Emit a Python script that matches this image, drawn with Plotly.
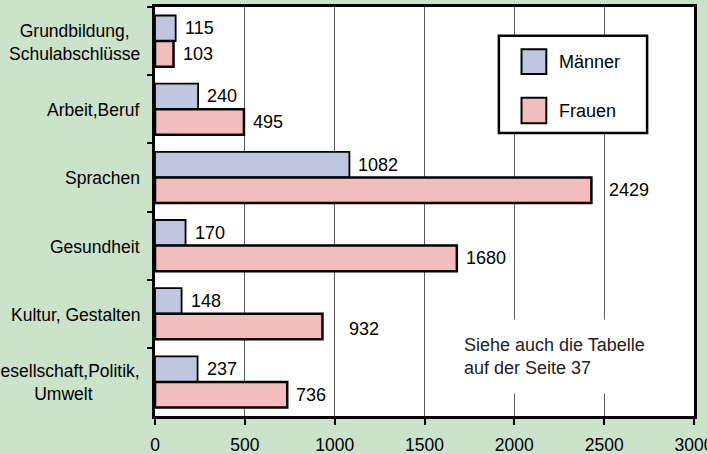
import plotly.graph_objects as go

# Kursbelegung nach Themenbereich
categories = ["Grundbildung,<br>Schulabschlüsse", "Arbeit,Beruf", "Sprachen",
              "Gesundheit", "Kultur, Gestalten", "Gesellschaft,Politik,<br>Umwelt"]
maenner = [115, 240, 1082, 170, 148, 237]
frauen = [103, 495, 2429, 1680, 932, 736]
x_ticks = [0, 500, 1000, 1500, 2000, 2500, 3000]

# kleine Verschiebungen der Beschriftungen (Pixel), wie im Original
nudge_m = [7, 7, 7, 7, 7, 7]
nudge_f = [7, 7, 16, 7, 25, 7]

col_m = "#bfc7e0"
col_f = "#f4bdbd"
bg = "#cbe2cb"
FONT = "Liberation Sans, Arial, sans-serif"

fig = go.Figure()
fig.add_trace(go.Bar(y=categories, x=maenner, orientation="h", name="Männer",
                     marker=dict(color=col_m, line=dict(color="black", width=1.8)),
                     showlegend=False))
fig.add_trace(go.Bar(y=categories, x=frauen, orientation="h", name="Frauen",
                     marker=dict(color=col_f, line=dict(color="black", width=2.5)),
                     showlegend=False))

ann = []
# Kategorienbeschriftung (zentrierte Zeilen, rechtsbündiger Block)
for c in categories:
    ann.append(dict(x=0, y=c, xref="paper", yref="y", text=c, showarrow=False,
                    xanchor="right", align="center", xshift=-13, yshift=-1,
                    font=dict(size=17.5)))
# Wertebeschriftungen
for c, v, s in zip(categories, maenner, nudge_m):
    ann.append(dict(x=v, y=c, xref="x", yref="y", text=str(v), showarrow=False,
                    xanchor="left", xshift=s, yshift=12.8, font=dict(size=18)))
for c, v, s in zip(categories, frauen, nudge_f):
    ys = -14.8 if s == 25 else -12.8
    ann.append(dict(x=v, y=c, xref="x", yref="y", text=str(v), showarrow=False,
                    xanchor="left", xshift=s, yshift=ys, font=dict(size=18)))

# Hinweis
ann.append(dict(x=0.543, y=0.237, xref="paper", yref="paper",
                text="Siehe auch die Tabelle<br>auf der Seite 37", showarrow=False,
                xanchor="left", yanchor="top", align="left", bgcolor="white",
                borderpad=15, font=dict(size=18, color="#222")))

# Legende von Hand
shapes = [
    dict(type="rect", xref="paper", yref="paper", x0=0.638, x1=0.913, y0=0.692, y1=0.93,
         fillcolor="white", line=dict(color="black", width=2.5)),
    dict(type="rect", xref="paper", yref="paper", x0=0.680, x1=0.726, y0=0.836, y1=0.897,
         fillcolor=col_m, line=dict(color="black", width=2)),
    dict(type="rect", xref="paper", yref="paper", x0=0.680, x1=0.726, y0=0.716, y1=0.778,
         fillcolor=col_f, line=dict(color="black", width=2)),
]
ann.append(dict(x=0.745, y=0.866, xref="paper", yref="paper", text="Männer",
                showarrow=False, xanchor="left", yanchor="middle", font=dict(size=18)))
ann.append(dict(x=0.745, y=0.746, xref="paper", yref="paper", text="Frauen",
                showarrow=False, xanchor="left", yanchor="middle", font=dict(size=18)))

fig.update_layout(
    width=707, height=454,
    margin=dict(l=155, r=13, t=7, b=38),
    paper_bgcolor=bg, plot_bgcolor="white",
    barmode="group", bargap=0.25, bargroupgap=0,
    font=dict(family=FONT, size=18, color="black"),
    annotations=ann, shapes=shapes,
    xaxis=dict(range=[0, 3000], tickvals=x_ticks, ticks="outside", ticklen=6,
               tickwidth=2, tickcolor="black", showline=True, linewidth=2.5,
               linecolor="black", mirror=True, showgrid=True, gridcolor="#5a5a5a",
               gridwidth=1, zeroline=False, tickfont=dict(size=17.5),
               ticklabeloverflow="allow", ticklabelstandoff=5, automargin=False),
    yaxis=dict(autorange="reversed", showticklabels=False, ticks="outside",
               tickson="boundaries", ticklen=5, tickwidth=2, tickcolor="black",
               showline=True, linewidth=2.5, linecolor="black", mirror=True,
               showgrid=False, zeroline=False, automargin=False),
)

# Seitenrand des Browsers entfernen, damit die Grafik bei (0,0) beginnt
fig.write_html("out.html", config={"displayModeBar": False},
               post_script="document.body.style.margin='0';")
